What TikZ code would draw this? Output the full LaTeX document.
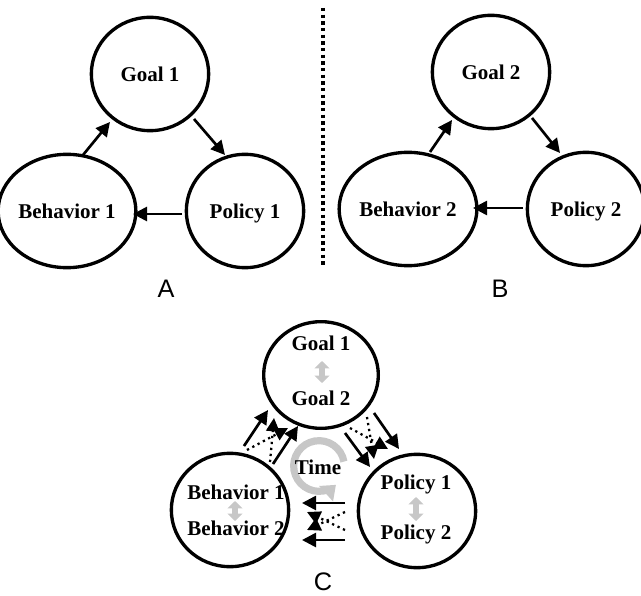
\documentclass[tikz,border=0pt]{standalone}
\usepackage{fontspec}
\setmainfont{Liberation Serif}
\newfontfamily\labelfont{Liberation Sans}
\usetikzlibrary{arrows.meta,shapes.geometric}
\begin{document}
\begin{tikzpicture}[x=0.75pt,y=-0.75pt,
  circ/.style={ellipse,draw=black,line width=2.5pt,minimum width=88pt,minimum height=85pt,inner sep=0pt,
    font=\fontsize{15.75}{18}\selectfont\bfseries,text height=10.6pt,text depth=0pt},
  txt/.style={font=\fontsize{15.75}{18}\selectfont\bfseries,text height=10.6pt,text depth=0pt,inner sep=0pt},
  lab/.style={font=\labelfont\fontsize{19}{22}\selectfont,text height=13.6pt,text depth=0pt,inner sep=0pt},
  arr/.style={line width=2pt,-{Triangle[length=10.5pt,width=10.5pt]}},
  darr/.style={line width=1.7pt,dash pattern=on 1.7pt off 2.8pt,-{Triangle[length=10pt,width=10pt]}},
  gdbl/.style={draw=black!22,line width=5pt,{Triangle[length=5.5pt,width=11pt]}-{Triangle[length=5.5pt,width=11pt]}},
  timearc/.style={draw=black!22,line width=5.4pt,-{Triangle[length=10pt,width=15pt]}}
]
\clip (0,0) rectangle (641,595);
% ---------- Panel A ----------
\node[circ] (g1) at (150,74) {Goal 1};
\node[circ] (b1) at (67,211) {Behavior 1};
\node[circ] (p1) at (245,211) {Policy 1};
\draw[arr] ([shift={(16,-56)}]b1.center) -- ([shift={(-40,48)}]g1.center);
\draw[arr] ([shift={(44,45)}]g1.center) -- ([shift={(-20,-56)}]p1.center);
\draw[arr] ([shift={(-63,3)}]p1.center) -- ([shift={(66,3)}]b1.center);
\node[lab] (la) at (166,288) {A};
% separator
\draw[line width=2.5pt,dash pattern=on 2.5pt off 2.5pt] (323,8) -- (323,267);
% ---------- Panel B ----------
\node[circ] (g2) at (491,72) {Goal 2};
\node[circ] (b2) at (408,209) {Behavior 2};
\node[circ] (p2) at (586,209) {Policy 2};
\draw[arr] ([shift={(22,-57)}]b2.center) -- ([shift={(-39,48)}]g2.center);
\draw[arr] ([shift={(41,46)}]g2.center) -- ([shift={(-26,-56)}]p2.center);
\draw[arr] ([shift={(-63,-1)}]p2.center) -- ([shift={(65,-1)}]b2.center);
\node[lab] (lb) at (500,288) {B};
% ---------- Panel C ----------
\node[circ,minimum height=80pt,minimum width=86pt] (gc) at (321,375) {};
\node[circ] (bc) at (230,510) {};
\node[circ] (pc) at (417,511) {};
\coordinate (tc) at (319,466);
\draw[timearc] ([shift={(10:19pt)}]tc) arc[start angle=10,end angle=312,radius=19pt];
\node[txt] (time) at (318,467) {Time};
\node[txt] (tg1) at (321,343) {Goal 1};
\node[txt] (tg2) at (321,398) {Goal 2};
\coordinate (ag) at (322,372);
\draw[gdbl] ([shift={(0,-11)}]ag) -- ([shift={(0,11)}]ag);
\node[txt] (tb1) at (236,492) {Behavior 1};
\node[txt] (tb2) at (236,528) {Behavior 2};
\coordinate (ab) at (235,511);
\draw[gdbl] ([shift={(0,-10)}]ab) -- ([shift={(0,10)}]ab);
\node[txt] (tp1) at (416,482) {Policy 1};
\node[txt] (tp2) at (416,532) {Policy 2};
\coordinate (ap) at (416,509);
\draw[gdbl] ([shift={(0,-12)}]ap) -- ([shift={(0,12)}]ap);
% behavior -> goal
\draw[arr] ([shift={(14,-64)}]bc.center) -- ([shift={(-53,35)}]gc.center);
\draw[arr] ([shift={(43,-46)}]bc.center) -- ([shift={(-23,51)}]gc.center);
\draw[darr] ([shift={(17,-60)}]bc.center) -- ([shift={(-33,53)}]gc.center);
\draw[darr] ([shift={(40,-48)}]bc.center) -- ([shift={(-47,43)}]gc.center);
% goal -> policy
\draw[arr] ([shift={(24,58)}]gc.center) -- ([shift={(-47,-44)}]pc.center);
\draw[arr] ([shift={(53,38)}]gc.center) -- ([shift={(-18,-62)}]pc.center);
\draw[darr] ([shift={(29,53)}]gc.center) -- ([shift={(-29,-62)}]pc.center);
\draw[darr] ([shift={(46,42)}]gc.center) -- ([shift={(-43,-52)}]pc.center);
% policy -> behavior
\draw[arr] ([shift={(-72,-8)}]pc.center) -- ([shift={(72,-7)}]bc.center);
\draw[arr] ([shift={(-72,29)}]pc.center) -- ([shift={(72,30)}]bc.center);
\draw[darr] ([shift={(-72,1)}]pc.center) -- ([shift={(77,20)}]bc.center);
\draw[darr] ([shift={(-72,19)}]pc.center) -- ([shift={(77,2)}]bc.center);
\node[lab] (lc) at (323,581) {C};
\end{tikzpicture}
\end{document}
